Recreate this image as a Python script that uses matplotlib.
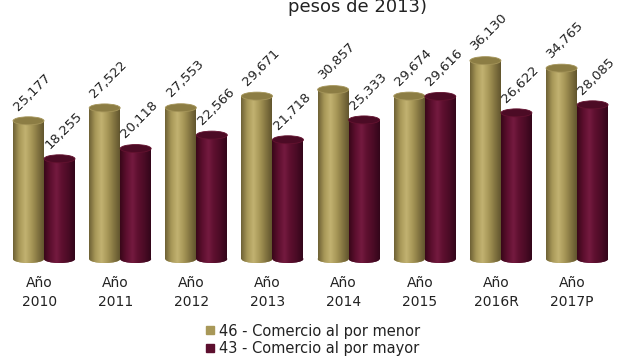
import numpy as np
import matplotlib
matplotlib.use("Agg")
import matplotlib.pyplot as plt
from matplotlib.patches import Ellipse
from matplotlib.colors import LinearSegmentedColormap
from matplotlib.lines import Line2D

years = ["2010", "2011", "2012", "2013", "2014", "2015", "2016R", "2017P"]
menor = [25177, 27522, 27553, 29671, 30857, 29674, 36130, 34765]
mayor = [18255, 20118, 22566, 21718, 25333, 29616, 26622, 28085]
labels = ["46 - Comercio al por menor", "43 - Comercio al por mayor"]

gold = "#a89858"
maroon = "#5c0f2e"
gold_cmap = LinearSegmentedColormap.from_list(
    "g", ["#6f6236", "#a89858", "#c2b271", "#a89858", "#857642", "#62562e"])
maroon_cmap = LinearSegmentedColormap.from_list(
    "m", ["#3a0719", "#5c0f2e", "#741a3f", "#5c0f2e", "#4a0b25", "#33061a"])

plt.rcParams['font.family'] = ['DejaVu Sans']

# vertical scale: baseline at 259 px from top, 0.00549 px per unit
ytop = 47180
px_per_unit = 259 / ytop
eh = 8 / px_per_unit  # cap ellipse height, ~8 px
bottom_px = 259 + 8

fig = plt.figure(figsize=(6.22, 3.6), dpi=100)
ax = fig.add_axes([0, (360 - bottom_px) / 360, 1, bottom_px / 360])
ax.axis("off")

x = np.arange(len(years))
w = 0.407
off = 0.2035
grad = np.linspace(0, 1, 64).reshape(1, -1)


def cylinders(xs, vals, color, cmap, cap_face, cap_edge):
    bars = ax.bar(xs, vals, width=w, color=color, linewidth=0, zorder=2)
    for b, v in zip(bars, vals):
        x0 = b.get_x()
        x1 = x0 + b.get_width()
        xc = (x0 + x1) / 2
        im = ax.imshow(grad, extent=(x0, x1, 0, v), aspect="auto",
                       cmap=cmap, zorder=2.1)
        im.set_clip_path(b)
        bot = Ellipse((xc, 0), x1 - x0, eh, facecolor=color, lw=0,
                      zorder=1.9)
        ax.add_patch(bot)
        im2 = ax.imshow(grad, extent=(x0, x1, -eh / 2, eh / 2),
                        aspect="auto", cmap=cmap, zorder=2.0)
        im2.set_clip_path(bot)
        top = Ellipse((xc, v), x1 - x0, eh, facecolor=cap_face,
                      edgecolor=cap_edge, lw=0.6, zorder=3)
        ax.add_patch(top)
        ax.text(x0 + 0.1, v + eh / 2 + 700, f"{v:,}", rotation=45,
                rotation_mode="anchor", ha="left", va="bottom",
                fontsize=9.5, color="#222222", zorder=4)


cylinders(x - off, menor, gold, gold_cmap, "#8c7d44", "#a5955a")
cylinders(x + off, mayor, maroon, maroon_cmap, "#4c0b25", "#63122f")
ax.set_xlim(-0.578, 7.59)
ax.set_ylim(-eh, ytop)

for i, yr in enumerate(years):
    ax.text(i - 0.065, -eh - 1700, "Año\n" + yr, ha="center", va="top",
            fontsize=10, linespacing=1.45, color="#222222", clip_on=False)

fig.text(0.575, 1 - 12 / 360, "pesos de 2013)", ha="center",
         va="baseline", fontsize=13, color="#222222")

handles = [Line2D([], [], marker="s", ls="", color=gold, markersize=6),
           Line2D([], [], marker="s", ls="", color=maroon, markersize=6)]
fig.legend(handles, labels, loc="center", bbox_to_anchor=(0.503, 0.0556),
           frameon=False, fontsize=10.5, handlelength=0.6, handletextpad=0.3,
           labelspacing=0.2, borderpad=0, labelcolor="#222222")

fig.savefig("out.png", dpi=100, facecolor="white")
